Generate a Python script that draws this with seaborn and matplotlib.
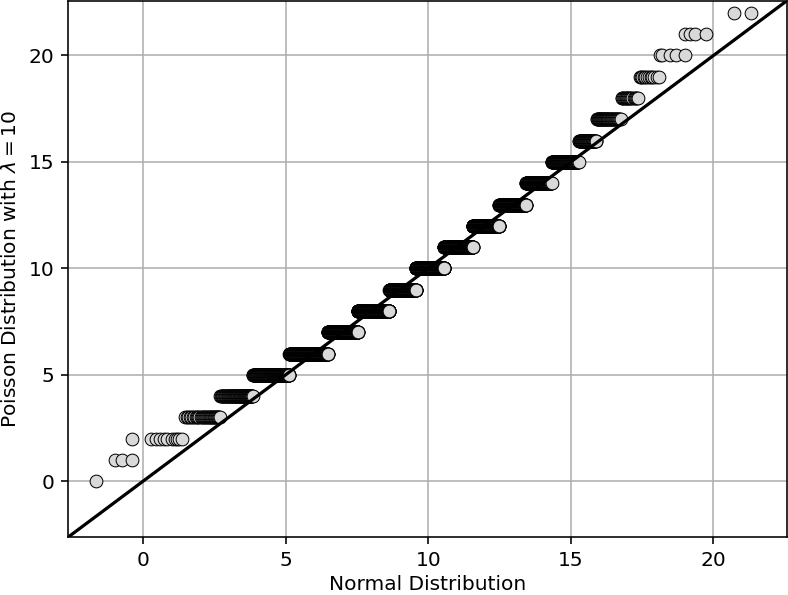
import numpy as np
import pandas as pd
import matplotlib
matplotlib.use("Agg")
import matplotlib.pyplot as plt
import seaborn as sns
from statistics import NormalDist

# ---- data ----
# total size of the paired samples
sample_size = 4500
# placement of the sorted normal sample (fitted to the picture)
normal_loc = 9.629
normal_scale = 3.021

# sparse low tail: Poisson value -> normal-sample x values (read individually)
low_tail_levels = [0, 1, 2]
low_tail_x = [
    [-1.64],
    [-0.97, -0.74, -0.39],
    [-0.39, 0.29, 0.46, 0.61, 0.72, 0.84, 1.02, 1.11, 1.19, 1.27, 1.37],
]

# dense middle: Poisson value -> number of points at that value
dense_levels = [3, 4, 5, 6, 7, 8, 9, 10, 11, 12, 13, 14, 15, 16, 17, 18, 19]
dense_counts = [34, 76, 182, 362, 427, 576, 542, 580, 530, 402, 305, 199, 132, 53, 44, 18, 12]

# sparse high tail
high_tail_levels = [20, 21, 22]
high_tail_x = [
    [18.12, 18.21, 18.49, 18.70, 18.99],
    [18.99, 19.17, 19.34, 19.75],
    [20.72, 21.33],
]

x_label = "Normal Distribution"
y_label = r"Poisson Distribution with $\lambda = 10$"

# ---- build the table of points ----
nd = NormalDist(mu=normal_loc, sigma=normal_scale)
xs, ys = [], []
for lvl, vals in zip(low_tail_levels, low_tail_x):
    xs.extend(vals)
    ys.extend([lvl] * len(vals))
rank = len(xs) + 1
for lvl, c in zip(dense_levels, dense_counts):
    for _ in range(c):
        xs.append(nd.inv_cdf((rank - 0.5) / sample_size))
        ys.append(lvl)
        rank += 1
for lvl, vals in zip(high_tail_levels, high_tail_x):
    xs.extend(vals)
    ys.extend([lvl] * len(vals))

df = pd.DataFrame({"normal": xs, "poisson": ys})

# ---- figure ----
sns.set_style("white")
plt.rcParams["font.family"] = ["DejaVu Sans"]
plt.rcParams["font.size"] = 10

dpi = 145
fig = plt.figure(figsize=(788 / dpi, 595 / dpi), dpi=dpi)
ax = fig.add_axes([68.3 / 788, 1 - 537 / 595, (786.5 - 68.3) / 788, (537 - 1) / 595])

ax.set_axisbelow(True)
ax.grid(True, color="#b0b0b0", linewidth=0.8)

sns.scatterplot(data=df, x="normal", y="poisson", ax=ax, s=40,
                color="#d9d9d9", edgecolor="black", linewidth=0.5,
                legend=False, zorder=2)

lims = (-2.62, 22.56)
ax.plot(lims, lims, color="black", linewidth=1.6, zorder=3)
ax.set_xlim(lims)
ax.set_ylim(lims)

ax.set_xticks([0, 5, 10, 15, 20])
ax.set_yticks([0, 5, 10, 15, 20])
ax.tick_params(axis="both", which="both", direction="out", length=3.5,
               width=0.8, color="black", labelsize=10, labelcolor="black",
               bottom=True, left=True)
for sp in ax.spines.values():
    sp.set_color("black")
    sp.set_linewidth(0.8)

ax.set_xlabel(x_label, fontsize=10, color="black", labelpad=2.5)
ax.set_ylabel(y_label, fontsize=10, color="black")

fig.savefig("out.png", dpi=dpi)
